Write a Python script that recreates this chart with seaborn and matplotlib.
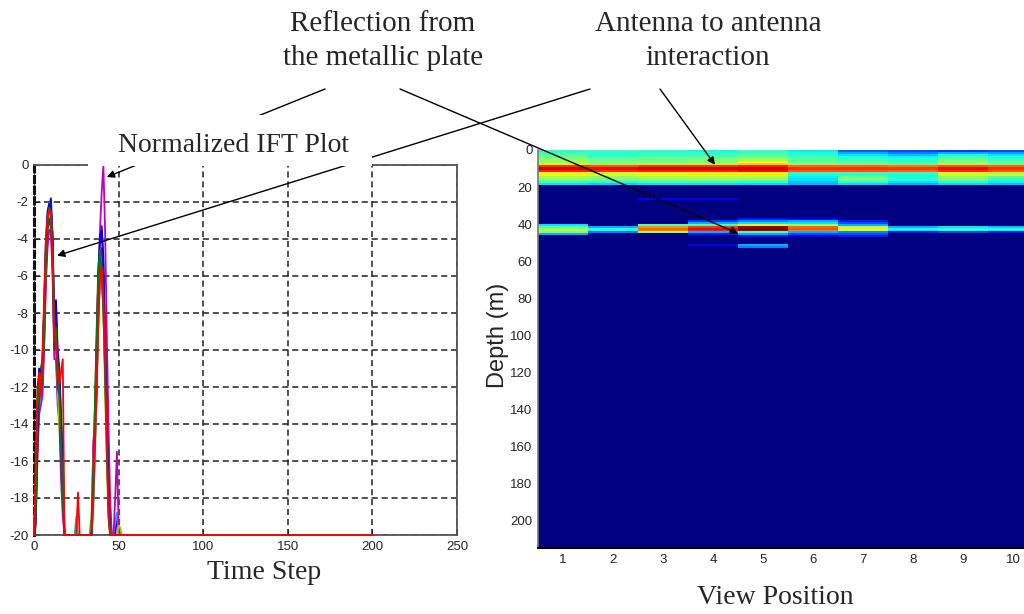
import numpy as np
import pandas as pd
import matplotlib
matplotlib.use("Agg")
import matplotlib.pyplot as plt
import seaborn as sns
from matplotlib.patches import Rectangle

# ---- left panel: normalized IFT traces (dB), one per view position ----
time_steps = list(range(53)) + [200]
series_names = ["view 1", "view 2", "view 3", "view 4", "view 5",
                "view 6", "view 7", "view 8", "view 9", "view 10"]
# classic MATLAB colour order
line_colors = [(0, 0, 1), (0, 0.5, 0), (1, 0, 0), (0, 0.75, 0.75), (0.75, 0, 0.75),
               (0.75, 0.75, 0), (0.25, 0.25, 0.25), (0, 0, 1), (0, 0.5, 0), (1, 0, 0)]

s1 = [-20, -18.5, -13, -11.5, -12.5, -11, -9.5, -6, -3.5, -2.2, -1.8, -3.8, -8.5, -7.3, -10, -11, -13.5, -16, -20,
      -20, -20, -20, -20, -20, -20, -20, -20, -20, -20, -20, -20, -20, -20, -20,
      -20, -17, -14.5, -11, -7, -4.2, -3.3, -5, -9.5, -13, -17.5, -20, -20, -20, -20, -19, -20, -20, -20,
      -20]
s2 = [-20, -19, -14, -12, -11, -10.5, -8, -4.5, -2.8, -2.0, -2.4, -4.2, -9.5, -8.5, -11.5, -12, -15, -17.5, -20,
      -20, -20, -20, -20, -20, -20, -20, -20, -20, -20, -20, -20, -20, -20, -20,
      -19, -16, -13, -9, -5.5, -4.5, -6, -8, -11, -15, -18, -20, -20, -20, -20, -20, -20, -20, -20,
      -20]
s3 = [-20, -17.5, -13.5, -11.8, -11.5, -10.8, -8, -4.8, -3.2, -2.7, -3.0, -5.2, -9.8, -10, -11.2, -12.5, -14, -16.5, -20,
      -20, -20, -20, -20, -20, -20, -20, -20, -20, -20, -20, -20, -20, -20, -20,
      -20, -18.5, -15.5, -12.5, -8.5, -6.2, -5.8, -7.5, -11, -14.5, -18.5, -20, -20, -20, -20, -20, -20, -20, -20,
      -20]
s4 = [-20, -19.5, -15, -13, -12.5, -12, -9, -5.5, -3.8, -3, -3.2, -5.5, -10, -9.8, -12.5, -13, -16, -18, -20,
      -20, -20, -20, -20, -20, -20, -19, -20, -20, -20, -20, -20, -20, -20, -20,
      -20, -18.5, -15.5, -12, -8.5, -5.5, -4.8, -6.5, -10, -14.5, -18, -20, -20, -20, -19.3, -18.8, -20, -20, -20,
      -20]
s5 = [-20, -19.5, -16, -13.5, -13, -12.5, -10, -6.5, -4.5, -3.5, -3.6, -6, -10.5, -10.5, -13, -14, -17, -19, -20,
      -20, -20, -20, -20, -20, -20, -20, -20, -20, -20, -20, -20, -20, -20, -20,
      -20, -15, -14, -12.5, -7, -3.5, -1.5, 0, -3.5, -9, -14, -18, -20, -20, -18, -15.5, -19.5, -20, -20,
      -20]
s6 = [-20, -18, -14.5, -12, -11.5, -11.5, -8.5, -5, -3.2, -2.7, -3, -4.8, -9.5, -9, -12, -14.2, -14, -17, -20,
      -20, -20, -20, -20, -20, -20, -20, -20, -20, -20, -20, -20, -20, -20, -20,
      -19.5, -16.5, -13.5, -10.5, -6.5, -4.5, -5.2, -7.5, -12, -16, -19, -20, -20, -20, -20, -20, -19.5, -19.6, -20,
      -20]
s7 = [-20, -19, -15.5, -12.8, -12, -11.8, -9, -5.5, -3.5, -2.9, -3.4, -5.5, -10, -9.2, -12, -12.5, -15.5, -18, -20,
      -20, -20, -20, -20, -20, -20, -20, -20, -20, -20, -20, -20, -20, -20, -20,
      -20, -17.5, -14, -11, -7.5, -5, -4.5, -6, -9, -13.5, -17, -20, -20, -20, -20, -20, -20, -20, -20,
      -20]
s8 = [-20, -19.2, -14.5, -11, -11.2, -10.8, -7.5, -4.2, -2.5, -2.1, -2.3, -4, -8.8, -7.8, -10.5, -11.5, -14, -15.5, -20,
      -20, -20, -20, -20, -20, -20, -20, -20, -20, -20, -20, -20, -20, -20, -20,
      -20, -17, -14.2, -10, -6, -3.8, -3.5, -5.5, -9.8, -13.5, -18, -20, -20, -20, -20, -20, -20, -20, -20,
      -20]
s9 = [-20, -18.8, -13.5, -11.8, -12.2, -11.2, -8.8, -5, -3, -2.3, -2.5, -4.5, -9.2, -8.8, -11, -12.2, -15.2, -17.2, -20,
      -20, -20, -20, -20, -20, -20, -20, -20, -20, -20, -20, -20, -20, -20, -20,
      -19.8, -16.8, -13.2, -9.5, -6, -4.6, -5.8, -7.8, -11.5, -15.5, -18.5, -20, -20, -20, -20, -20, -20, -20, -20,
      -20]
s10 = [-20, -16, -12, -11.2, -12.5, -10.2, -7.2, -4, -2.8, -2.4, -2.6, -5, -9.2, -9.6, -10.8, -11.8, -11.2, -10.5, -20,
       -20, -20, -20, -20, -20, -20, -20, -17.7, -20, -20, -20, -20, -20, -20, -20,
       -20, -18, -15, -12, -8.5, -6, -5.5, -7, -10.5, -14.5, -19, -20, -20, -20, -20, -20, -20, -20, -20,
       -20]
series_values = [s1, s2, s3, s4, s5, s6, s7, s8, s9, s10]

time_ticks = [0, 50, 100, 150, 200, 250]
level_ticks = [0, -2, -4, -6, -8, -10, -12, -14, -16, -18, -20]

# ---- right panel: depth image, 1 m rows, 10 view positions ----
n_depth = 215
view_positions = [1, 2, 3, 4, 5, 6, 7, 8, 9, 10]
depth_ticks = [0, 20, 40, 60, 80, 100, 120, 140, 160, 180, 200]
band_depths = list(range(19)) + [26, 37, 38, 39, 40, 41, 42, 43, 44, 45, 46, 51, 52]
band_levels = [
    [0.40, 0.42, 0.40, 0.38, 0.42, 0.36, 0.22, 0.20, 0.18, 0.20],
    [0.42, 0.40, 0.40, 0.40, 0.42, 0.38, 0.30, 0.25, 0.30, 0.28],
    [0.45, 0.40, 0.42, 0.42, 0.45, 0.40, 0.35, 0.32, 0.38, 0.35],
    [0.48, 0.42, 0.45, 0.45, 0.48, 0.42, 0.38, 0.35, 0.42, 0.38],
    [0.50, 0.45, 0.48, 0.48, 0.50, 0.45, 0.40, 0.38, 0.45, 0.40],
    [0.52, 0.48, 0.48, 0.50, 0.55, 0.45, 0.42, 0.40, 0.48, 0.42],
    [0.55, 0.50, 0.50, 0.52, 0.62, 0.48, 0.45, 0.42, 0.50, 0.45],
    [0.58, 0.52, 0.55, 0.55, 0.68, 0.50, 0.48, 0.45, 0.55, 0.48],
    [0.85, 0.82, 0.85, 0.85, 0.88, 0.80, 0.80, 0.78, 0.82, 0.80],
    [0.92, 0.90, 0.92, 0.92, 0.92, 0.86, 0.86, 0.85, 0.90, 0.86],
    [0.92, 0.90, 0.92, 0.92, 0.92, 0.86, 0.86, 0.85, 0.90, 0.86],
    [0.88, 0.86, 0.88, 0.88, 0.90, 0.82, 0.82, 0.80, 0.86, 0.82],
    [0.60, 0.58, 0.60, 0.62, 0.62, 0.40, 0.42, 0.40, 0.58, 0.55],
    [0.65, 0.62, 0.65, 0.66, 0.66, 0.38, 0.40, 0.38, 0.62, 0.60],
    [0.55, 0.52, 0.55, 0.56, 0.56, 0.36, 0.48, 0.38, 0.52, 0.45],
    [0.52, 0.50, 0.52, 0.54, 0.52, 0.35, 0.50, 0.40, 0.50, 0.42],
    [0.50, 0.48, 0.50, 0.50, 0.48, 0.35, 0.48, 0.38, 0.48, 0.40],
    [0.42, 0.40, 0.42, 0.42, 0.40, 0.32, 0.40, 0.35, 0.40, 0.36],
    [0.35, 0.33, 0.35, 0.35, 0.34, 0.30, 0.34, 0.30, 0.34, 0.32],
    [0, 0, 0.10, 0.10, 0, 0, 0, 0, 0, 0],
    [0, 0, 0, 0, 0.15, 0.12, 0, 0, 0, 0],
    [0, 0, 0, 0.18, 0.25, 0.30, 0.15, 0, 0, 0],
    [0, 0, 0, 0.30, 0.35, 0.35, 0.20, 0, 0, 0],
    [0.35, 0, 0.45, 0.45, 0.65, 0.55, 0.30, 0, 0, 0],
    [0.45, 0.30, 0.75, 0.85, 0.97, 0.80, 0.58, 0.30, 0.35, 0.32],
    [0.55, 0.40, 0.80, 0.90, 1.00, 0.82, 0.65, 0.38, 0.42, 0.40],
    [0.60, 0.38, 0.78, 0.88, 0.95, 0.78, 0.62, 0.35, 0.40, 0.36],
    [0.50, 0.25, 0.55, 0.30, 0.45, 0.30, 0.25, 0.15, 0.20, 0.15],
    [0.30, 0, 0, 0.15, 0.30, 0.20, 0.20, 0, 0, 0],
    [0, 0, 0, 0, 0.15, 0.10, 0.15, 0, 0, 0],
    [0, 0, 0, 0.10, 0.30, 0, 0, 0, 0, 0],
    [0, 0, 0, 0, 0.25, 0, 0, 0, 0, 0],
]

sns.set_theme(style="white")
plt.rcParams["font.family"] = ["Liberation Sans", "DejaVu Sans"]
plt.rcParams["axes.unicode_minus"] = False
serif = ["Liberation Serif", "DejaVu Serif"]

W, H = 1024, 614
fig = plt.figure(figsize=(W / 100, H / 100), dpi=100)
ax1 = fig.add_axes([34 / W, 79 / H, 423 / W, 370 / H])
ax2 = fig.add_axes([538 / W, 66 / H, 500 / W, 398 / H])

# left plot
rows = []
for name, vals in zip(series_names, series_values):
    for t, v in zip(time_steps, vals):
        rows.append((t, v, name))
df = pd.DataFrame(rows, columns=["Time Step", "Level", "View"])
sns.lineplot(data=df, x="Time Step", y="Level", hue="View", hue_order=series_names,
             palette=line_colors, estimator=None, sort=False, legend=False,
             linewidth=1.3, ax=ax1)
for ln in ax1.lines:
    ln.set_zorder(3)
    ln.set_clip_on(False)
ax1.set_xlim(0, 250)
ax1.set_ylim(-20, 0)
ax1.set_xticks(time_ticks)
ax1.set_yticks(level_ticks)
ax1.grid(True, color="#222222", linestyle=(0, (4, 2.5)), linewidth=1.1)
ax1.tick_params(direction="in", length=4, width=0.8, labelsize=9.5, pad=4,
                bottom=True, left=True)
for side in ["top", "right", "bottom"]:
    ax1.spines[side].set_color("#555555")
    ax1.spines[side].set_linewidth(1.3)
ax1.spines["left"].set_color("#111111")
ax1.spines["left"].set_linewidth(2.2)
ax1.spines["left"].set_linestyle((0, (2, 1.5)))
ax1.set_ylabel("")
ax1.set_xlabel("Time Step", fontfamily=serif, fontsize=20)
ax1.xaxis.set_label_coords(0.544, -0.068)

# right plot
grid = np.zeros((n_depth, len(view_positions)))
for d, lev in zip(band_depths, band_levels):
    grid[d] = lev
sns.heatmap(grid, ax=ax2, cmap="jet", vmin=0, vmax=1, cbar=False,
            xticklabels=False, yticklabels=False)
ax2.set_xticks(np.arange(len(view_positions)) + 0.5)
ax2.set_xticklabels(view_positions, rotation=0)
ax2.set_yticks(depth_ticks)
ax2.set_yticklabels(depth_ticks, rotation=0)
ax2.tick_params(direction="in", length=4, width=0.8, color="black", labelsize=9.5,
                pad=4, bottom=True, left=True, top=True)
for side in ["left", "bottom"]:
    ax2.spines[side].set_visible(True)
ax2.spines["left"].set_color("#777777")
ax2.spines["bottom"].set_color("black")
ax2.spines["left"].set_linewidth(1.2)
ax2.spines["bottom"].set_linewidth(1.5)
ax2.set_ylabel("Depth (m)", fontsize=17)
ax2.yaxis.set_label_coords(-0.058, 0.535)
ax2.set_xlabel("View Position", fontfamily=serif, fontsize=20)
ax2.xaxis.set_label_coords(0.474, -0.093)

# callouts
def fx(x):
    return x / W

def fy(y):
    return 1 - y / H

arrow = dict(arrowstyle="-|>", color="black", lw=1.0, shrinkA=0, shrinkB=0,
             mutation_scale=11)
ax1.annotate("", xy=(43, -0.65), xytext=(fx(325), fy(89)), textcoords="figure fraction",
             arrowprops=arrow, annotation_clip=False)
ax1.annotate("", xy=(13.6, -4.9), xytext=(fx(590), fy(89)), textcoords="figure fraction",
             arrowprops=arrow, annotation_clip=False)
ax2.annotate("", xy=(4.0, 45), xytext=(fx(400), fy(89)), textcoords="figure fraction",
             arrowprops=arrow, annotation_clip=False)
ax2.annotate("", xy=(3.54, 8), xytext=(fx(660), fy(89)), textcoords="figure fraction",
             arrowprops=arrow, annotation_clip=False)

fig.add_artist(Rectangle((fx(88), fy(166)), (372 - 88) / W, (166 - 115) / H,
                         transform=fig.transFigure, facecolor="white",
                         edgecolor="none", zorder=1))
fig.text(fx(233), fy(145), "Normalized IFT Plot", ha="center", va="center",
         fontfamily=serif, fontsize=20, zorder=3)
fig.text(fx(383), fy(41), "Reflection from\nthe metallic plate", ha="center", va="center",
         multialignment="center", linespacing=1.42, fontfamily=serif, fontsize=21)
fig.text(fx(708), fy(41), "Antenna to antenna\ninteraction", ha="center", va="center",
         multialignment="center", linespacing=1.42, fontfamily=serif, fontsize=21)

fig.savefig("out.png", dpi=100)
